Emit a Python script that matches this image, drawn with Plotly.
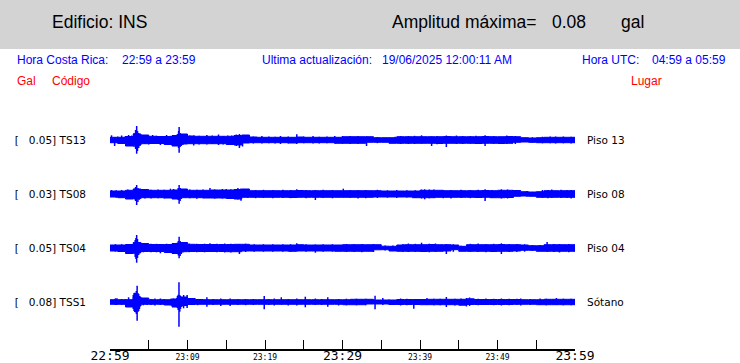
import plotly.graph_objects as go

# ---------------- data ----------------
minutes = list(range(61))                      # minutes after 22:59
channels = ["TS13", "TS08", "TS04", "TSS1"]
gal_max = ["0.05", "0.03", "0.05", "0.08"]
places = ["Piso 13", "Piso 08", "Piso 04", "Sótano"]
tick_minutes = list(range(0, 61, 5))
tick_labels = ["22:59", "", "23:09", "", "23:19", "", "23:29", "", "23:39", "", "23:49", "", "23:59"]
big_labels = ["22:59", "23:29", "23:59"]

# background envelope half-width per minute (relative amplitude)
env_ts13 = [2.7, 2.7, 3.5, 6, 5, 3.7, 3.5, 3.5, 4.5, 6, 4, 3.7, 3.7, 3.7, 3.7, 3.7, 4.5, 5, 3, 2.7,
            2.7, 2.7, 2.7, 2.7, 3, 2.7, 2.7, 2.7, 2.7, 2.7, 3.3, 3.3, 3.3, 3.3, 2.3, 2.3, 2.3, 3.3, 3.3, 3.3,
            3.3, 3.3, 3.3, 3.5, 3.3, 3.3, 3.3, 3.3, 3.5, 3.3, 3.3, 3.5, 3.3, 2.3, 2, 2.3, 2.7, 2.7, 2.7, 2.7, 2.7]
env_ts08 = [3, 3, 3.7, 5, 4.5, 3.7, 3.7, 3.7, 4, 5, 3.7, 3.7, 3.7, 4, 4, 4, 4.5, 5, 3.3, 3.3,
            3.3, 3.3, 3.3, 3.3, 3.5, 3.3, 3.3, 3.3, 3.3, 3.3, 3.3, 3.3, 3.3, 3.3, 3.3, 3, 3, 3, 3, 3,
            3.7, 3.7, 3.7, 3.3, 3.3, 3.3, 3.3, 3.3, 3.5, 3.3, 3.7, 3.7, 3.5, 2.3, 2, 2.3, 3.3, 3.3, 3.3, 3.3, 3.3]
env_ts04 = [3, 3, 3.5, 5.5, 4.5, 3.5, 3.5, 3.5, 4.5, 5.5, 3.7, 3.5, 3.5, 3.5, 3.5, 3.5, 3.7, 3.7, 3, 3,
            3, 3, 3, 3, 3.3, 3, 3, 3, 3, 3, 3.3, 3.3, 3.3, 3.3, 3.3, 1.8, 1.7, 3, 3.3, 3.3,
            3.3, 3.5, 3.3, 3.3, 3, 1.7, 3.3, 3.3, 3.3, 3.3, 3.5, 3.3, 3.3, 3, 2.3, 2.3, 3.3, 3.3, 3.3, 3.3, 3.3]
env_tss1 = [2.3, 2.3, 2.3, 5, 4, 2.3, 2.3, 2.3, 3, 5, 3.5, 2.5, 2.3, 2.3, 2.3, 2.3, 2.3, 2.3, 2.3, 2.3,
            2.3, 2.3, 2.3, 2.3, 2.3, 2.3, 2.3, 2.3, 2.3, 2.3, 2.3, 2.7, 2.7, 2.7, 2, 2, 2, 2.5, 2.5, 2.5,
            2.5, 2.7, 2.7, 2.7, 2.7, 2.7, 3.2, 2.5, 2.5, 2.5, 2.5, 2.5, 2.5, 2.3, 2.3, 2.3, 2.7, 2.7, 2.7, 2.7, 2.7]

# individual peaks: time (min), upward and downward excursion
spk_ts13_t = [0.2, 0.6, 1.5, 2.4, 3.1, 3.3, 3.44, 3.55, 3.7, 3.85, 5.5, 6.5, 7.3, 8.7, 8.85, 8.92, 9.05, 9.2, 9.4,
              10.8, 12.5, 14, 15.2, 16.3, 16.7, 17.1, 19.6, 22, 24.1, 26.2, 29, 31, 33.1, 38.5, 40.2, 41.5,
              43.4, 44.7, 46.5, 48.4, 51.2, 57.5,
              1.0, 2.0, 2.8, 4.5, 5.0, 6.0, 7.0, 7.8, 10.3, 11.5, 13.2, 14.6, 15.7, 18.5, 20.5, 21.3, 23, 25,
              27, 28, 30, 32, 34.5, 36.8, 37.5, 39.3, 42.2, 45.5, 47.2, 49.5, 52.3, 54.5, 55.8, 56.8, 58.5, 59.5]
spk_ts13_up = [4.7, 2.7, 4.5, 5, 7, 10, 14, 9, 7, 6, 5, 4, 5, 6, 9, 13, 7, 6, 5,
               4.5, 5, 5.5, 4.5, 5.5, 6, 5, 4, 4, 5.7, 4, 4, 4, 3.5, 4, 4.7, 3.5,
               4.5, 4.5, 4, 4.7, 4.5, 3.5,
               3.5, 4, 4.5, 4.5, 4, 4.3, 4, 4.2, 4.5, 4.3, 4.5, 4, 4.5, 3.5, 3.5, 3.3, 3.5, 3.5,
               3.3, 3.6, 4, 4, 3, 3.2, 4, 4.2, 4, 4, 4.2, 4, 4, 2.8, 3.3, 3.5, 3.5, 3.3]
spk_ts13_dn = [2.7, 6, 4, 4.5, 7, 9, 13.7, 11, 8, 6, 4, 5, 4.5, 6, 8, 12.7, 7, 6, 5,
               5.5, 4.5, 5, 5, 6, 8, 6.5, 3.5, 4, 4, 3.5, 3.5, 4, 6, 4, 3.5, 6,
               7, 4, 3.5, 6, 4, 3.5,
               3.3, 3.5, 4.5, 4, 4.5, 3.8, 4.3, 4.2, 4, 4.5, 4, 4.5, 4.3, 3.5, 3.3, 3.6, 3.5, 3.3,
               3.6, 3.3, 3.8, 4, 3.2, 3, 4, 4, 4.3, 4, 4, 3.8, 4, 2.7, 3.3, 3.3, 3.3, 3.5]

spk_ts08_t = [0.2, 2.3, 3.15, 3.3, 3.44, 3.6, 3.75, 7.8, 8.2, 8.8, 8.92, 9.05, 9.2, 12.9, 14.5, 15, 16.5, 16.9,
              24.1, 26.5, 30.1, 32, 37, 40.2, 40.6, 41.8, 44, 48.4, 50.5, 52, 57, 59.5,
              0.8, 1.5, 4.5, 5.3, 6.2, 7, 10.3, 11.2, 12, 13.5, 15.6, 17.8, 18.8, 19.8, 21, 22.3, 23.3, 25.3,
              27.5, 28.7, 31, 33, 34.5, 35.8, 38.3, 39.4, 41.2, 43, 45.3, 46.5, 47.5, 49.3, 51.3, 53.8, 55.8,
              56.5, 58.2, 59]
spk_ts08_up = [4, 4.5, 5.5, 7, 9, 6, 5, 5.3, 5, 6, 9, 6, 5, 6, 5, 5, 6, 5.5,
               4.7, 4, 5.3, 4, 4, 4.5, 4.7, 4.5, 4, 4.7, 4.7, 4, 4.5, 4,
               3.8, 4, 4.5, 4.3, 4.5, 4.3, 4.5, 4.3, 4.5, 4.6, 4.7, 4, 4, 4.2, 4, 4.3, 4, 4,
               4.2, 4, 4, 4, 4.2, 3.7, 3.8, 3.8, 4.5, 4, 4.2, 4, 4.2, 4, 4.5, 3, 4,
               4, 4.2, 4]
spk_ts08_dn = [3, 4.5, 5.5, 7, 11, 8, 6, 4, 4, 6, 9.7, 7, 5, 4, 4.5, 4, 5.5, 6.7,
               4, 6, 3.5, 4.5, 4, 4.5, 5.3, 4, 4.5, 7, 4.5, 4, 4, 4.5,
               3.7, 3.8, 4.5, 4.5, 4.3, 4.5, 4.3, 4.7, 4.3, 4.6, 4.5, 4, 4.2, 4, 4.3, 4, 4.2, 4.2,
               4, 4.3, 4, 4.2, 4, 3.7, 3.6, 3.8, 4.3, 4.2, 4, 4.2, 4, 4, 4.5, 2.8, 4,
               4.2, 4, 4]

spk_ts04_t = [2.4, 3.1, 3.25, 3.35, 3.44, 3.55, 3.7, 3.85, 6.5, 8.7, 8.82, 8.92, 9.05, 9.2, 9.4, 12.9, 14.8, 16.7,
              24.1, 26.5, 31.5, 38.5, 40.2, 42, 43.4, 47.5, 50.5, 52.5, 56.4, 58,
              0.7, 1.5, 4.3, 5.3, 6, 7.3, 10.2, 11.2, 12.2, 13.8, 15.6, 17.5, 18.6, 19.8, 21, 22.3, 23.3, 25.3,
              27.5, 28.7, 30.5, 32.5, 34, 35.5, 36.5, 37.8, 39.4, 41.2, 44.3, 45.3, 46.5, 48.5, 49.5, 51.5,
              53.5, 54.5, 55.5, 57.3, 59.2]
spk_ts04_up = [4, 6, 8, 10, 13, 9, 6, 5, 3.5, 5.5, 7, 11.3, 7, 6, 5, 4.7, 4.5, 4,
               4.7, 3.5, 4, 4.5, 5.3, 4.5, 4, 4.5, 4.7, 4, 6, 4,
               3.8, 3.8, 4.5, 4.3, 4.2, 4.3, 4.5, 4.3, 4.3, 4.3, 4.3, 4.3, 3.8, 3.8, 3.8, 3.7, 3.8, 3.8,
               3.7, 3.8, 4, 4, 4, 2.4, 2.4, 4, 4.2, 4.3, 3.8, 2.3, 4.2, 4, 4.2, 4,
               3.7, 3, 3, 4, 4]
spk_ts04_dn = [5.3, 6, 9, 11, 14.7, 10, 7, 5.5, 5.3, 6, 7.5, 10.3, 8, 6, 4.5, 4, 4.5, 6,
               3.5, 4.7, 4, 4, 4, 4, 6, 4, 6, 4, 4, 4.5,
               3.6, 3.8, 4.3, 4.2, 4.3, 4.3, 4.3, 4.3, 4.3, 4.2, 4.5, 4, 3.8, 3.7, 3.8, 3.8, 3.8, 3.7,
               3.8, 3.7, 4, 4.2, 4, 2.4, 2.3, 4, 4, 4.3, 3.8, 2.3, 4, 4.2, 4, 4,
               3.7, 3, 3, 4, 4.2]

spk_tss1_t = [0.7, 0.9, 2.4, 3.0, 3.1, 3.2, 3.3, 3.4, 3.5, 3.6, 3.7, 3.8, 3.9, 4.3, 5.8, 6.5, 7.9, 8.2,
              8.6, 8.7, 8.8, 8.9, 9.0, 9.1, 9.25, 9.5, 9.75, 9.95, 12.5, 14.3, 15.5, 19.9, 21.2, 22.1, 23,
              24.1, 25.2, 26.5, 28.1, 29.5, 34.2, 35.2, 37.5, 39.2, 40.9, 43.4, 46, 46.4, 48.5, 50.5, 53,
              55.5, 57.6,
              1.5, 2, 4.8, 5.3, 7, 10.5, 11.3, 13.3, 16.5, 17.5, 18.5, 20.5, 27.3, 30.5, 31.8, 33, 36, 38.3,
              41.8, 42.6, 44.5, 45.3, 47.5, 49.5, 51.5, 52.5, 54.2, 56.3, 58.5, 59.5]
spk_tss1_up = [3.7, 3.7, 4.7, 7, 9, 9.3, 9, 11, 16.3, 9, 8, 6, 4, 3, 3.5, 3.5, 3.5, 3.5,
               4, 6, 7.3, 19.7, 7, 6, 5, 7, 5, 7, 4.7, 3.5, 3.5, 6, 3.5, 4.7, 3,
               3.5, 5.3, 3.5, 4.7, 3, 6.3, 4, 3.5, 3, 4, 5, 4, 4.5, 3.5, 3.5, 3.5,
               3.5, 4,
               3, 3, 3, 3, 3, 3.2, 3, 3, 3, 3, 3, 3, 3, 3.3, 3.3, 3.3, 2.6, 3.2,
               3.3, 3.3, 3.3, 3.5, 3.2, 3.2, 3.2, 3.2, 3, 3.3, 3.3, 3.3]
spk_tss1_dn = [3, 3, 3, 7, 9, 10, 10.3, 12, 18.7, 10, 9, 7, 4, 3.3, 3.5, 3, 3.5, 3,
               4, 6, 8, 24.7, 9.7, 7, 5, 6.3, 4, 6, 4.7, 4, 4, 7.3, 3.5, 3, 3.5,
               3.5, 5.3, 3, 4.7, 3.5, 7.3, 3, 3.5, 6.7, 3, 5, 4.5, 4, 3, 3.5, 3.5,
               3, 3,
               3, 3.2, 3, 3, 3, 3, 3.2, 3, 3, 3.2, 3, 3, 3, 3.3, 3.3, 3.3, 2.6, 3.2,
               3.3, 3.3, 3.5, 3.3, 3.2, 3.2, 3.2, 3, 3, 3.3, 3.3, 3.3]

envelopes = [env_ts13, env_ts08, env_ts04, env_tss1]
spikes = [(spk_ts13_t, spk_ts13_up, spk_ts13_dn),
          (spk_ts08_t, spk_ts08_up, spk_ts08_dn),
          (spk_ts04_t, spk_ts04_up, spk_ts04_dn),
          (spk_tss1_t, spk_tss1_up, spk_tss1_dn)]

# ---------------- layout constants ----------------
W, H = 740, 363
L, R, T, B = 110, 165, 100, 14
PW, PH = W - L - R, H - T - B
offsets = [209, 155, 101, 47]   # baseline of each trace, in y-axis units (1 unit = 1 px)
BLUE = "#0000ff"


def px(xp):
    return (xp - L) / PW


def py(yp):
    return (H - B - yp) / PH


fig = go.Figure()

for env, (st, su, sd), off in zip(envelopes, spikes, offsets):
    xs = minutes + minutes[::-1]
    ys = [off + e for e in env] + [off - e for e in env[::-1]]
    fig.add_trace(go.Scatter(x=xs, y=ys, mode="lines", fill="toself", fillcolor=BLUE,
                             line=dict(color=BLUE, width=1, shape="hv"), hoverinfo="skip",
                             showlegend=False))
    sx, sy = [], []
    for t, u, d in zip(st, su, sd):
        sx += [t, t, None]
        sy += [off + u, off - d, None]
    fig.add_trace(go.Scatter(x=sx, y=sy, mode="lines", line=dict(color=BLUE, width=1.5),
                             hoverinfo="skip", showlegend=False))

# dummy trace so the right-hand axis is drawn
fig.add_trace(go.Scatter(x=[None], y=[None], yaxis="y2", showlegend=False, hoverinfo="skip"))

ticktext = [f'<span style="font-size:13px">{t}</span>' if t in big_labels else t for t in tick_labels]

left_text = [f"[\u00a0\u00a0\u00a0{g}] {c}" for g, c in zip(gal_max, channels)]

fig.update_layout(
    width=W, height=H, margin=dict(l=L, r=R, t=T, b=B, autoexpand=False),
    paper_bgcolor="white", plot_bgcolor="white",
    xaxis=dict(range=[0, 60], tickvals=tick_minutes, ticktext=ticktext, ticks="inside", ticklen=9,
               tickwidth=1, tickcolor="black", showline=True, linecolor="black", linewidth=1.5,
               showgrid=False, zeroline=False, automargin=False,
               tickfont=dict(family="DejaVu Sans Mono", size=8, color="black")),
    yaxis=dict(range=[0, PH], tickvals=offsets, ticktext=left_text, ticks="", showline=False,
               showgrid=False, zeroline=False, automargin=False, ticklabelstandoff=23,
               tickfont=dict(family="DejaVu Sans", size=10.5, color="black")),
    yaxis2=dict(range=[0, PH], overlaying="y", side="right", tickvals=offsets, ticktext=places,
                ticks="", showline=False, showgrid=False, zeroline=False, automargin=False,
                ticklabelstandoff=11,
                tickfont=dict(family="DejaVu Sans", size=10.5, color="black")),
    shapes=[dict(type="rect", xref="paper", yref="paper", x0=px(0), x1=px(W), y0=py(49), y1=py(0),
                 fillcolor="#d3d3d3", line=dict(width=0), layer="below")],
)


def ann(text, xp, yp, color="black", size=12):
    fig.add_annotation(text=text, xref="paper", yref="paper", x=px(xp), y=py(yp), xanchor="left",
                       yanchor="middle", showarrow=False,
                       font=dict(family="Liberation Sans", size=size, color=color))


ann("Edificio: INS", 50, 22, size=17.5)
ann("Amplitud máxima=", 390, 22, size=17.5)
ann("0.08", 550, 22, size=17.5)
ann("gal", 619, 22, size=17.5)
ann("Hora Costa Rica:", 15, 60, BLUE)
ann("22:59 a 23:59", 120, 60, BLUE)
ann("Ultima actualización:", 260, 60, BLUE)
ann("19/06/2025 12:00:11 AM", 380, 60, BLUE)
ann("Hora UTC:", 580, 60, BLUE)
ann("04:59 a 05:59", 650, 60, BLUE)
ann("Gal", 15, 81, "red")
ann("Código", 50, 81, "red")
ann("Lugar", 629, 81, "red")

fig.write_html("out.html", config={"displayModeBar": False},
               post_script="document.body.style.margin='0';document.body.style.overflow='hidden';")
